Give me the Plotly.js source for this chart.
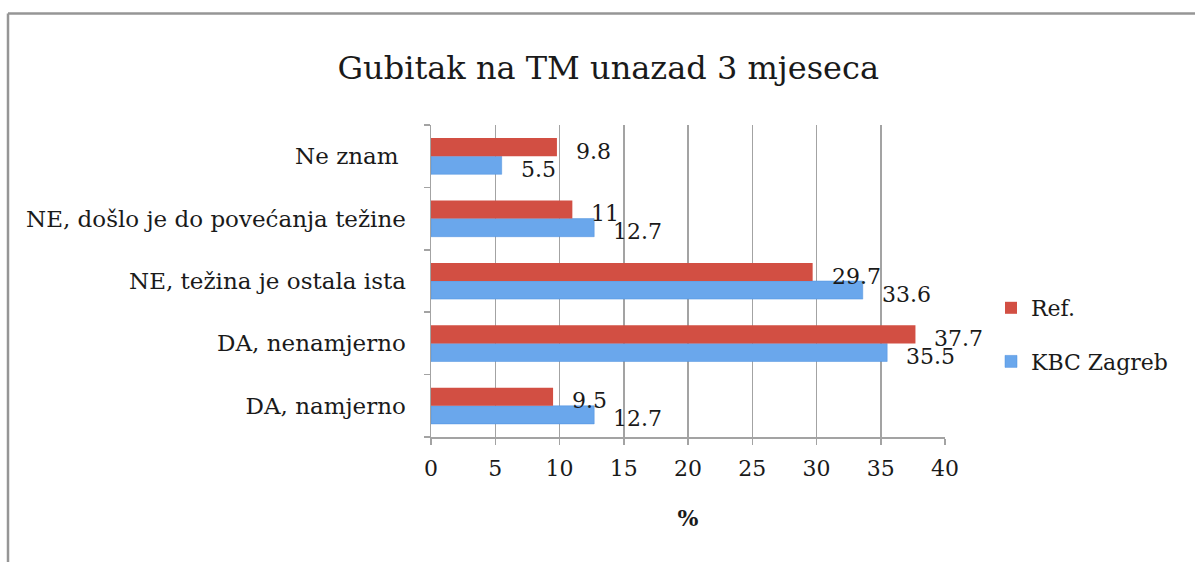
<!DOCTYPE html>
<html>
<head>
<meta charset="utf-8">
<script src="https://cdn.plot.ly/plotly-3.0.1.min.js"></script>
<style>html,body{margin:0;padding:0;background:#fff;}#chart{width:1195px;height:562px;}</style>
</head>
<body>
<div id="chart"></div>
<script>
const categories = ["DA, namjerno", "DA, nenamjerno", "NE, težina je ostala ista", "NE, došlo je do povećanja težine", "Ne znam "];
const refValues = [9.5, 37.7, 29.7, 11, 9.8];
const kbcValues = [12.7, 35.5, 33.6, 12.7, 5.5];
const xTicks = [0, 5, 10, 15, 20, 25, 30, 35, 40];

const FONT = "DejaVu Serif, Liberation Serif, serif";
const TXT = "#1a1a1a";
const L = 431, R = 945, T = 125, B = 437, W = 1195, H = 562;
const px = v => (v - L) / (R - L);
const py = v => (B - v) / (B - T);

const traces = [
  {
    type: "bar", orientation: "h", name: "KBC Zagreb",
    y: categories, x: kbcValues,
    marker: {color: "#6aa7ec", line: {color: "#4f90de", width: 0.5}},
    legendrank: 2, legendgroup: "kbc"
  },
  {
    type: "bar", orientation: "h", name: "Ref.",
    y: categories, x: refValues,
    marker: {color: "#d24f43"},
    legendrank: 1, legendgroup: "ref"
  }
];

// data labels, placed through the axes' scales
const annotations = [];
categories.forEach((c, i) => {
  annotations.push({x: refValues[i], y: c, xref: "x", yref: "y", text: String(refValues[i]),
    showarrow: false, xanchor: "left", yanchor: "middle", xshift: 17, yshift: 5,
    font: {family: FONT, size: 22, color: TXT}});
  annotations.push({x: kbcValues[i], y: c, xref: "x", yref: "y", text: String(kbcValues[i]),
    showarrow: false, xanchor: "left", yanchor: "middle", xshift: 17, yshift: -13,
    font: {family: FONT, size: 22, color: TXT}});
});

const layout = {
  width: W, height: H,
  margin: {l: L, r: W - R, t: T, b: H - B},
  paper_bgcolor: "#fff", plot_bgcolor: "#fff",
  font: {family: FONT, size: 22, color: TXT},
  title: {text: "Gubitak na TM unazad 3 mjeseca", font: {family: FONT, size: 32, color: TXT},
          x: 0.509, xref: "container", xanchor: "center", y: 1 - 68 / H, yref: "container", yanchor: "middle"},
  barmode: "group", bargap: 0.42, bargroupgap: 0,
  showlegend: true,
  legend: {x: px(991), y: py(287), xanchor: "left", yanchor: "top", traceorder: "grouped",
           tracegroupgap: 22, font: {family: FONT, size: 22, color: TXT}, bgcolor: "rgba(0,0,0,0)"},
  annotations: annotations,
  xaxis: {
    range: [0, 40], tickvals: xTicks, ticktext: xTicks.map(String),
    showgrid: true, gridcolor: "#a3a3a3", gridwidth: 1.5,
    showline: true, linecolor: "#a3a3a3", linewidth: 1.5,
    ticks: "outside", ticklen: 6, tickcolor: "#a3a3a3", tickwidth: 1.5,
    ticklabelstandoff: 5,
    zeroline: false, fixedrange: true,
    tickfont: {family: FONT, size: 22, color: TXT},
    title: {text: "<b>%</b>", font: {family: FONT, size: 22, color: TXT}, standoff: 30}
  },
  yaxis: {
    type: "category", categoryorder: "array", categoryarray: categories,
    showline: true, linecolor: "#a3a3a3", linewidth: 1.5,
    ticks: "outside", ticklen: 6, tickcolor: "#a3a3a3", tickwidth: 1.5, tickson: "boundaries",
    ticklabelstandoff: 19,
    showgrid: false, zeroline: false, fixedrange: true,
    tickfont: {family: FONT, size: 23, color: TXT}
  },
  shapes: [
    {type: "line", xref: "paper", yref: "paper", x0: px(8), x1: px(1200), y0: py(13.5), y1: py(13.5),
     line: {color: "#969696", width: 2.5}},
    {type: "line", xref: "paper", yref: "paper", x0: px(8), x1: px(8), y0: py(13.5), y1: py(570),
     line: {color: "#969696", width: 2.5}}
  ]
};

Plotly.newPlot("chart", traces, layout, {displayModeBar: false, staticPlot: true});
</script>
</body>
</html>
